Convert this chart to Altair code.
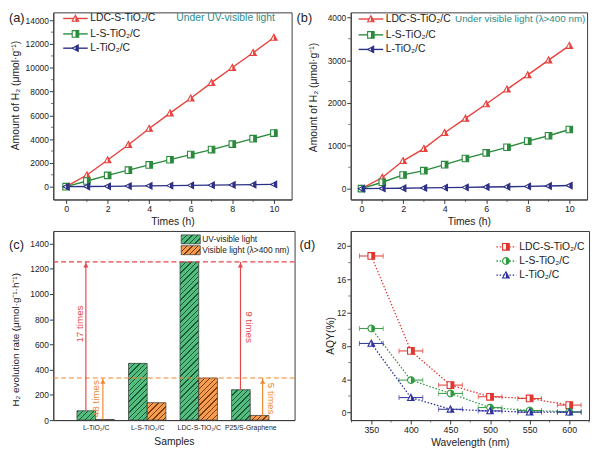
import math
import altair as alt
import pandas as pd

FONT = "Liberation Sans"
AX = "#3c3c3c"
TXT = "#222222"

# ---------------- data ----------------
series = ["LDC-S-TiO₂/C", "L-S-TiO₂/C", "L-TiO₂/C"]

hours = list(range(11))
a_ldc = [0, 980, 2240, 3530, 4890, 6190, 7440, 8750, 10020, 11270, 12550]
a_ls = [0, 480, 950, 1390, 1830, 2270, 2700, 3120, 3580, 4040, 4510]
a_lt = [0, 15, 30, 50, 70, 90, 110, 130, 150, 170, 190]

b_ldc = [0, 260, 650, 935, 1305, 1640, 1975, 2320, 2655, 3000, 3340]
b_ls = [0, 150, 320, 420, 560, 705, 835, 965, 1110, 1235, 1380]
b_lt = [0, 5, 10, 17, 24, 30, 38, 45, 53, 62, 72]

samples = ["L-TiO₂/C", "L-S-TiO₂/C", "LDC-S-TiO₂/C", "P25/S-Graphene"]
c_uv = [74, 450, 1255, 241]
c_vis = [5, 138, 334, 37]
c_legend = ["UV-visible light", "Visible light (λ>400 nm)"]
c_ratio_uv = ["17 times", "9 times"]
c_ratio_vis = ["48 times", "5 times"]

wavelength = [350, 400, 450, 500, 550, 600]
d_ldc = [18.8, 7.4, 3.3, 1.9, 1.7, 0.9]
d_ls = [10.1, 3.9, 2.3, 0.6, 0.25, 0.1]
d_lt = [8.3, 1.8, 0.4, 0.2, 0.05, 0.05]
wl_err = 15

# ---------------- styles ----------------
AB_COLORS = ["#e8403c", "#2a8a3c", "#2c2f86"]
D_COLORS = ["#e2342e", "#2e9a3e", "#2c2f9c"]
TEAL = "#2e8b8b"
RED = "#e8474a"
ORANGE = "#f0882e"


def poly(pts):
    return "M" + "L".join(f"{x:.3f},{y:.3f}" for x, y in pts) + "Z"


TRI_UP = poly([(0, -1), (1, 0.85), (-1, 0.85)])
TRI_UP_H = poly([(0, -1), (1, 0.85), (0, 0.85)])
SQ = poly([(-1, -1), (1, -1), (1, 1), (-1, 1)])
SQ_H = poly([(0, -1), (1, -1), (1, 1), (0, 1)])
TRI_L = poly([(-1, 0), (0.85, -1), (0.85, 1)])
TRI_L_H = poly([(0, -0.54), (0.85, -1), (0.85, 1), (0, 0.54)])
CIRC = poly([(math.sin(2 * math.pi * k / 24), -math.cos(2 * math.pi * k / 24)) for k in range(24)])
CIRC_H = poly([(math.sin(math.pi * k / 12), -math.cos(math.pi * k / 12)) for k in range(13)])

AB_SHAPES = [(TRI_UP, TRI_UP_H), (SQ, SQ_H), (TRI_L, TRI_L_H)]
D_SHAPES = [(SQ, SQ_H), (CIRC, CIRC_H), (TRI_UP, TRI_UP_H)]


def axis_x(title, values, W, ty=22, **kw):
    d = dict(title=title, values=values, grid=False, tickSize=4, tickColor=AX, tickWidth=1,
             domainColor=AX, domainWidth=1, labelFont=FONT, labelFontSize=9, labelColor=TXT,
             labelPadding=1.5, labelFlush=False, labelOverlap=False, titleFont=FONT,
             titleFontSize=10.5, titleFontWeight=400, titleColor=TXT, titleX=W / 2,
             titleY=ty, titleBaseline="middle", titleAlign="center")
    d.update(kw)
    return alt.Axis(**d)


def axis_y(title, values, tx, ty, **kw):
    d = dict(title=title, values=values, grid=False, tickSize=4, tickColor=AX, tickWidth=1,
             domainColor=AX, domainWidth=1, labelFont=FONT, labelFontSize=8.5, labelColor=TXT,
             labelPadding=1, labelFlush=False, labelOverlap=False, titleFont=FONT,
             titleFontSize=10.5, titleFontWeight=400, titleColor=TXT, titleX=tx,
             titleY=ty, titleAngle=270, titleBaseline="middle", titleAlign="center", format="d")
    d.update(kw)
    return alt.Axis(**d)


def tag_layer(tag, tx, ty):
    return alt.Chart(pd.DataFrame({"lab": [tag]})).mark_text(
        align="left", baseline="top", font=FONT, fontSize=13, color=TXT
    ).encode(text="lab:N", x=alt.value(tx), y=alt.value(ty))


def minor_layers(xe, ye, xminor, yminor, fx, fy, H):
    out = []
    if yminor:
        out.append(alt.Chart(pd.DataFrame({fy: yminor})).mark_tick(
            orient="horizontal", size=2.5, thickness=1, color=AX).encode(
            x=alt.value(-1.25), y=ye))
    if xminor:
        out.append(alt.Chart(pd.DataFrame({fx: xminor})).mark_tick(
            orient="vertical", size=2.5, thickness=1, color=AX).encode(
            y=alt.value(H + 1.25), x=xe))
    return out


# ---------------- panels (a) and (b) ----------------
LEG_T = [-0.14, 0.45, 1.04]
LEG_TEXT_T = 1.16


def time_panel(vals, xdom, ydom, yvals, yminor, W, H, ytx, yty, leg_v, note, note_t,
               note_v, note_size, tag, tag_x):
    rows = []
    for s, arr in zip(series, vals):
        for t, v in zip(hours, arr):
            rows.append(dict(t=t, v=v, s=s, g=s, m=1))
    for s, lv in zip(series, leg_v):
        for t, m in zip(LEG_T, [0, 1, 0]):
            rows.append(dict(t=t, v=lv, s=s, g=s + " key", m=m))
    df = pd.DataFrame(rows)
    xe = alt.X("t:Q", scale=alt.Scale(domain=xdom, nice=False, zero=False),
               axis=axis_x("Times (h)", list(range(0, 11, 2)), W, ty=22))
    ye = alt.Y("v:Q", scale=alt.Scale(domain=ydom, nice=False, zero=False),
               axis=axis_y("Amount of H₂ (μmol·g⁻¹)", yvals, ytx, yty))
    layers = []
    for s, col, (sh, hf) in zip(series, AB_COLORS, AB_SHAPES):
        base = alt.Chart(df).transform_filter(alt.datum.s == s)
        layers.append(base.mark_line(color=col, strokeWidth=1.4).encode(x=xe, y=ye, detail="g:N"))
        pts = base.transform_filter(alt.datum.m == 1)
        layers.append(pts.mark_point(shape=sh, size=44, filled=True, fill="white", stroke=col,
                                     strokeWidth=1.1, opacity=1).encode(x=xe, y=ye))
        layers.append(pts.mark_point(shape=hf, size=44, filled=True, fill=col, strokeWidth=0,
                                     opacity=1).encode(x=xe, y=ye))
    lt = pd.DataFrame({"t": [LEG_TEXT_T] * 3, "v": leg_v, "lab": series})
    layers.append(alt.Chart(lt).mark_text(align="left", baseline="middle", font=FONT,
                                          fontSize=10.5, color=TXT).encode(x=xe, y=ye, text="lab:N"))
    nt = pd.DataFrame({"t": [note_t], "v": [note_v], "lab": [note]})
    layers.append(alt.Chart(nt).mark_text(align="left", baseline="middle", font=FONT,
                                          fontSize=note_size, color=TEAL).encode(x=xe, y=ye, text="lab:N"))
    layers += minor_layers(xe, ye, [1, 3, 5, 7, 9], yminor, "t", "v", H)
    layers.append(tag_layer(tag, tag_x, 0))
    return alt.layer(*layers).properties(width=W, height=H)


pa = time_panel([a_ldc, a_ls, a_lt], [-0.616, 10.853], [-1077, 14663],
                list(range(0, 14001, 2000)), list(range(1000, 14000, 2000)),
                242, 190, -38, 84, [14150, 12850, 11650],
                "Under UV-visible light", 5.3, 14150, 10.5, "(a)", -45)
pb = time_panel([b_ldc, b_ls, b_lt], [-0.521, 10.853], [-253, 4115],
                list(range(0, 4001, 1000)), [500, 1500, 2500, 3500],
                240, 190, -38, 86, [3960, 3590, 3250],
                "Under visible light (λ>400 nm)", 4.5, 3960, 10, "(b)", -55)

# ---------------- panel (c) ----------------
CW, CH = 245, 192
C_DOM = [0.178, 4.86]
C_YDOM = [0, 1500]
PXU = CW / (C_DOM[1] - C_DOM[0])
PYU = CH / (C_YDOM[1] - C_YDOM[0])
BW = 0.363
GREEN_BG, GREEN_FG = "#52bd7e", "#1d5a35"
ORANGE_BG, ORANGE_FG = "#f59c4e", "#7a3b0e"


def hatch(w, h, bg, fg, period=3.9, lw=1.0):
    w = max(w, 1.0)
    h = max(h, 1.0)
    inv = (1 / h + 1 / w) / (1 / h ** 2 + 1 / w ** 2)
    x2, y2 = inv / h, inv / w
    L = (w + h) / math.sqrt(2)
    step = period / L
    t = lw / L
    stops = []
    pos = 0.0
    while pos < 1:
        a = pos
        b = min(pos + t, 1.0)
        c = min(pos + step, 1.0)
        stops += [{"offset": round(a, 5), "color": fg}, {"offset": round(b, 5), "color": fg},
                  {"offset": round(b, 5), "color": bg}, {"offset": round(c, 5), "color": bg}]
        pos += step
    return {"gradient": "linear", "x1": 0, "y1": 0, "x2": round(x2, 5), "y2": round(y2, 5),
            "stops": stops}


label_expr = " : ".join(f"datum.value == {i + 1} ? '{s}'" for i, s in enumerate(samples)) + " : ''"
xc = alt.X("x0:Q", scale=alt.Scale(domain=C_DOM, nice=False, zero=False),
           axis=axis_x("Samples", [1, 2, 3, 4], CW, ty=22, labelExpr=label_expr, ticks=False,
                       labelFontSize=7, labelPadding=4))
yc = alt.Y("v:Q", scale=alt.Scale(domain=C_YDOM, nice=False, zero=False),
           axis=axis_y("H₂ evolution rate (μmol·g⁻¹·h⁻¹)", list(range(0, 1401, 200)), -38, 110,
                       titleFontSize=10))

c_layers = []
for i in range(len(samples)):
    for vals, off, bg, fg in [(c_uv, -BW, GREEN_BG, GREEN_FG), (c_vis, 0.0, ORANGE_BG, ORANGE_FG)]:
        v = vals[i]
        x0 = i + 1 + off
        dfb = pd.DataFrame({"x0": [x0], "x1": [x0 + BW], "v": [v], "b": [0]})
        c_layers.append(alt.Chart(dfb).mark_bar(
            fill=hatch(BW * PXU, v * PYU, bg, fg), stroke="#333333", strokeWidth=0.7
        ).encode(x=xc, x2="x1:Q", y=yc, y2="b:Q"))

# legend swatches
for (y0, y1), bg, fg in [((1398, 1469), GREEN_BG, GREEN_FG), ((1312, 1383), ORANGE_BG, ORANGE_FG)]:
    dfl = pd.DataFrame({"x0": [2.66], "x1": [3.03], "v": [y1], "b": [y0]})
    c_layers.append(alt.Chart(dfl).mark_bar(
        fill=hatch(0.37 * PXU, (y1 - y0) * PYU, bg, fg), stroke="#333333", strokeWidth=0.7
    ).encode(x=xc, x2="x1:Q", y=yc, y2="b:Q"))
c_layers.append(alt.Chart(pd.DataFrame({"x0": [3.07, 3.07], "v": [1433, 1347], "lab": c_legend}))
                .mark_text(align="left", baseline="middle", font=FONT, fontSize=8.5, color=TXT)
                .encode(x=xc, y=yc, text="lab:N"))

# dashed reference lines
c_layers.append(alt.Chart(pd.DataFrame({"v": [c_uv[2]]})).mark_rule(
    color=RED, strokeDash=[5, 3], strokeWidth=1.2).encode(y=yc))
c_layers.append(alt.Chart(pd.DataFrame({"v": [c_vis[2]]})).mark_rule(
    color=ORANGE, strokeDash=[5, 3], strokeWidth=1.2).encode(y=yc))

# arrows
arrows = [
    (0.81, c_uv[0], c_uv[2], RED),
    (3.81, c_uv[3], c_uv[2], RED),
    (1.14, c_vis[0], c_vis[2], ORANGE),
    (4.24, c_vis[3], c_vis[2], ORANGE),
]
for x, y0, y1, col in arrows:
    dfa = pd.DataFrame({"x0": [x], "v": [y0], "b": [y1]})
    c_layers.append(alt.Chart(dfa).mark_rule(color=col, strokeWidth=1.2).encode(
        x=xc, y=yc, y2="b:Q"))
    dfh = pd.DataFrame({"x0": [x], "v": [y1]})
    c_layers.append(alt.Chart(dfh).mark_point(shape="triangle-up", size=28, filled=True,
                                              color=col, opacity=1).encode(
        x=xc, y=yc, yOffset=alt.value(3.5)))

# ratio labels
texts = [
    (0.69, 762, c_ratio_uv[0], RED, 270),
    (1.0, 170, c_ratio_vis[0], ORANGE, 270),
    (3.98, 738, c_ratio_uv[1], RED, 90),
    (4.40, 170, c_ratio_vis[1], ORANGE, 90),
]
for x, v, lab, col, ang in texts:
    c_layers.append(alt.Chart(pd.DataFrame({"x0": [x], "v": [v], "lab": [lab]})).mark_text(
        font=FONT, fontSize=10, color=col, angle=ang, align="center", baseline="middle"
    ).encode(x=xc, y=yc, text="lab:N"))
c_layers.append(tag_layer("(c)", -45, 8))
pc = alt.layer(*c_layers).properties(width=CW, height=CH)

# ---------------- panel (d) ----------------
DW, DH = 242, 192
D_LEG_W = [508, 520, 533]
D_LEG_V = [19.9, 18.2, 16.5]
rows = []
for s, arr in zip(series, [d_ldc, d_ls, d_lt]):
    for w, v in zip(wavelength, arr):
        rows.append(dict(w=w, v=v, s=s, g=s, m=1, e=1, lo=w - wl_err, hi=w + wl_err))
for s, lv in zip(series, D_LEG_V):
    for w, m in zip(D_LEG_W, [0, 1, 0]):
        rows.append(dict(w=w, v=lv, s=s, g=s + " key", m=m, e=0, lo=w, hi=w))
ddf = pd.DataFrame(rows)
caps = []
for s, arr in zip(series, [d_ldc, d_ls, d_lt]):
    for w, v in zip(wavelength, arr):
        caps.append(dict(w=w - wl_err, v=v, s=s))
        caps.append(dict(w=w + wl_err, v=v, s=s))
cdf = pd.DataFrame(caps)

xd = alt.X("w:Q", scale=alt.Scale(domain=[324, 625], nice=False, zero=False),
           axis=axis_x("Wavelength (nm)", wavelength, DW, ty=23))
yd = alt.Y("v:Q", scale=alt.Scale(domain=[-0.9, 21.8], nice=False, zero=False),
           axis=axis_y("AQY(%)", [0, 4, 8, 12, 16, 20], -20, 106))
d_layers = []
for s, col, (sh, hf) in zip(series, D_COLORS, D_SHAPES):
    base = alt.Chart(ddf).transform_filter(alt.datum.s == s)
    d_layers.append(base.mark_line(color=col, strokeWidth=1.3, strokeDash=[1.5, 1.8]).encode(
        x=xd, y=yd, detail="g:N"))
    d_layers.append(base.transform_filter(alt.datum.e == 1).mark_rule(color=col, strokeWidth=1).encode(
        x=xd, x2="hi:Q", y=yd).transform_calculate(w="datum.lo"))
    d_layers.append(alt.Chart(cdf).transform_filter(alt.datum.s == s).mark_tick(
        orient="vertical", size=5, thickness=1, color=col).encode(x=xd, y=yd))
    pts = base.transform_filter(alt.datum.m == 1)
    d_layers.append(pts.mark_point(shape=sh, size=46, filled=True, fill="white", stroke=col,
                                   strokeWidth=1.1, opacity=1).encode(x=xd, y=yd))
    d_layers.append(pts.mark_point(shape=hf, size=46, filled=True, fill=col, strokeWidth=0,
                                   opacity=1).encode(x=xd, y=yd))
d_layers.append(alt.Chart(pd.DataFrame({"w": [537] * 3, "v": D_LEG_V, "lab": series})).mark_text(
    align="left", baseline="middle", font=FONT, fontSize=10.5, color=TXT).encode(x=xd, y=yd, text="lab:N"))
d_layers += minor_layers(xd, yd, [325, 375, 425, 475, 525, 575, 625], [2, 6, 10, 14, 18], "w", "v", DH)
d_layers.append(tag_layer("(d)", -52, 8))
pdd = alt.layer(*d_layers).properties(width=DW, height=DH)

chart = alt.concat(pa, pb, pc, pdd, columns=2, spacing={"row": 32, "column": 57},
                   bounds="flush", align="each").configure_view(
    stroke=AX, strokeWidth=1).properties(padding={"left": 0, "top": 0, "right": 2, "bottom": 2})

chart.save("out.html", embed_options={"renderer": "svg", "actions": False})
